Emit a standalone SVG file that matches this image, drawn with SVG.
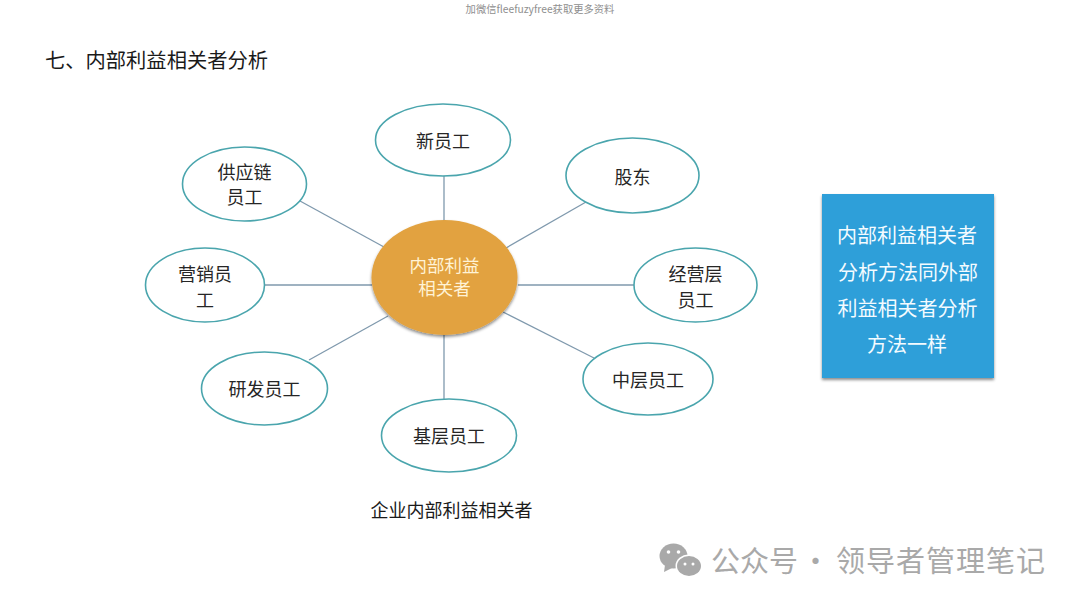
<svg xmlns="http://www.w3.org/2000/svg" width="1080" height="604" viewBox="0 0 1080 604">
<defs>
<style>
text{font-family:"Noto Sans CJK SC","Noto Sans",sans-serif;text-anchor:middle}
.n ellipse{fill:#fff;stroke:#4aa5ad;stroke-width:1.6}
.n text{font-size:18px;fill:#262626}
.c line{stroke:#7f99ad;stroke-width:1.3}
.w{fill:#f4fbff;font-size:20px}
.g{fill:#a9a9a9}
</style>
<filter id="s" x="-10%" y="-10%" width="120%" height="120%"><feDropShadow dx="0" dy="2" stdDeviation="1.500" flood-color="#000" flood-opacity=".45"/></filter>
</defs>
<rect width="1080" height="604" fill="#fff"/>
<text x="540" y="13" font-size="10.300" fill="#8f8f8f">加微信fleefuzyfree获取更多资料</text>
<text x="156.500" y="67.500" font-size="20.300" fill="#1a1a1a">七、内部利益相关者分析</text>
<g id="connectors" class="c">
<line x1="444" y1="176" x2="444" y2="222"/>
<line x1="300" y1="201" x2="384" y2="247"/>
<line x1="586" y1="202" x2="506" y2="248"/>
<line x1="264" y1="285" x2="372" y2="285"/>
<line x1="518" y1="285" x2="634" y2="285"/>
<line x1="309" y1="360" x2="388" y2="316"/>
<line x1="594" y1="358" x2="503" y2="312"/>
<line x1="444" y1="334" x2="444" y2="405"/>
</g>
<g id="center"><ellipse cx="444.500" cy="277.500" rx="73" ry="57.500" fill="#e2a23f" filter="url(#s)"/>
<text x="444.500" y="271.500" font-size="17.500" fill="#fff3d6">内部利益</text><text x="444.500" y="295" font-size="17.500" fill="#fff3d6">相关者</text></g>
<g id="n1" class="n"><ellipse cx="443" cy="140" rx="67.500" ry="36"/><text x="443" y="148">新员工</text></g>
<g id="n2" class="n"><ellipse cx="244.500" cy="184" rx="62" ry="37"/><text x="244.500" y="179">供应链</text><text x="244.500" y="204">员工</text></g>
<g id="n3" class="n"><ellipse cx="632.500" cy="175.500" rx="66.500" ry="37.500"/><text x="632.500" y="184">股东</text></g>
<g id="n4" class="n"><ellipse cx="205" cy="285" rx="59.500" ry="37"/><text x="205" y="281">营销员</text><text x="205" y="307">工</text></g>
<g id="n5" class="n"><ellipse cx="695.500" cy="285" rx="61.500" ry="37"/><text x="695.500" y="281">经营层</text><text x="695.500" y="307">员工</text></g>
<g id="n6" class="n"><ellipse cx="264.500" cy="388.500" rx="63" ry="36.500"/><text x="264.500" y="396">研发员工</text></g>
<g id="n7" class="n"><ellipse cx="648" cy="379" rx="65" ry="36"/><text x="648" y="387">中层员工</text></g>
<g id="n8" class="n"><ellipse cx="449" cy="435.500" rx="67.500" ry="36.500"/><text x="449" y="443">基层员工</text></g>
<text x="451.500" y="517" font-size="18" fill="#1a1a1a">企业内部利益相关者</text>
<g id="note"><rect x="822" y="194" width="172" height="184" fill="#2e9fd9" filter="url(#s)"/>
<text class="w" x="907" y="243">内部利益相关者</text>
<text class="w" x="908" y="280">分析方法同外部</text>
<text class="w" x="907.500" y="316">利益相关者分析</text>
<text class="w" x="907" y="352">方法一样</text></g>
<g id="watermark">
<ellipse cx="673.500" cy="556" rx="14" ry="12.500" class="g"/><path d="M665 565l-1 7 8-4z" class="g"/>
<ellipse cx="689" cy="566" rx="13.500" ry="11.500" fill="#fff"/><ellipse cx="689" cy="566" rx="12" ry="10" class="g"/>
<circle cx="668.500" cy="552" r="1.800" fill="#fff"/><circle cx="678.500" cy="552" r="1.800" fill="#fff"/><circle cx="685" cy="564" r="1.500" fill="#fff"/><circle cx="693" cy="564" r="1.500" fill="#fff"/>
<text font-size="29" class="g" style="text-anchor:start"><tspan x="711" y="571.500">公众号</tspan><tspan x="801" y="571.500">·</tspan><tspan x="836" y="571.500" letter-spacing="1">领导者管理笔记</tspan></text></g>
</svg>
